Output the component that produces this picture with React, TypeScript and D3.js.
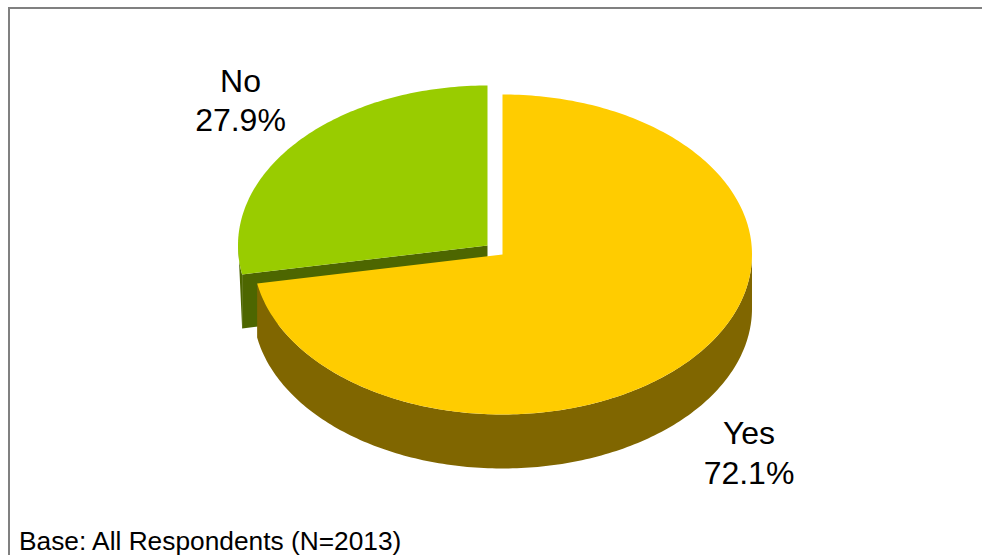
import React from "react";
import * as d3 from "d3";

const categories = ["Yes", "No"];
const values = [72.1, 27.9];
const sliceLabels = ["72.1%", "27.9%"];
const topColors = ["#FFCC00", "#99CC00"];
const sideColors = ["#806600", "#4D6600"];
const footnote = "Base: All Respondents (N=2013)";

const W = 982, H = 555;
const rx = 249.5, ry = 160, depth = 54;
const centers = [{ x: 502.5, y: 254.5 }, { x: 487.5, y: 245.5 }];
const labelPos = [{ x: 749, y: 444 }, { x: 240.5, y: 91.5 }];

const pie = d3.pie<number>().sort(null).startAngle(0).endAngle(2 * Math.PI);
const arcs = pie(values);
const line = d3.line();

function rim(c: { x: number; y: number }, a0: number, a1: number, dy = 0): [number, number][] {
  const n = Math.max(2, Math.ceil(Math.abs(a1 - a0) * 60));
  return d3.range(n + 1).map((i) => {
    const a = a0 + ((a1 - a0) * i) / n;
    return [c.x + rx * Math.sin(a), c.y - ry * Math.cos(a) + dy] as [number, number];
  });
}

function topPath(i: number) {
  const c = centers[i];
  return line([[c.x, c.y], ...rim(c, arcs[i].startAngle, arcs[i].endAngle)])! + "Z";
}
function outerWall(i: number, a0: number, a1: number) {
  const c = centers[i];
  return line([...rim(c, a0, a1), ...rim(c, a1, a0, depth)])! + "Z";
}
// sliver at the far left of the detached slice: the rim joined straight to the wall's foot
function sliver(i: number, a0: number, a1: number) {
  const c = centers[i];
  return line([...rim(c, a0, a1), rim(c, a0, a0, depth)[0]])! + "Z";
}
function cutFace(i: number, a: number) {
  const c = centers[i];
  const p = rim(c, a, a)[0];
  return line([[c.x, c.y], p, [p[0], p[1] + depth], [c.x, c.y + depth]])! + "Z";
}

export default function App() {
  const yes = arcs[0], no = arcs[1];
  return (
    <svg width={W} height={H} style={{ position: "absolute", left: 0, top: 0, background: "#fff" }} fontFamily="Liberation Sans, Arial, sans-serif">
      <path d={`M9,${H}V8H${W}`} fill="none" stroke="#808080" strokeWidth={2} />
      <path d={sliver(1, no.startAngle, no.startAngle + (no.endAngle - no.startAngle) * 0.12)} fill={sideColors[1]} />
      <path d={cutFace(1, no.startAngle)} fill={sideColors[1]} />
      <path d={topPath(1)} fill={topColors[1]} />
      <path d={outerWall(0, Math.PI / 2, yes.endAngle)} fill={sideColors[0]} />
      <path d={topPath(0)} fill={topColors[0]} />
      {categories.map((cat, i) => (
        <text key={cat} textAnchor="middle" fontSize={32} fill="#000">
          <tspan x={labelPos[i].x} y={labelPos[i].y}>{cat}</tspan>
          <tspan x={labelPos[i].x} y={labelPos[i].y + 39.5}>{sliceLabels[i]}</tspan>
        </text>
      ))}
      <text x={19} y={550} fontSize={26.3} fill="#000">{footnote}</text>
    </svg>
  );
}
